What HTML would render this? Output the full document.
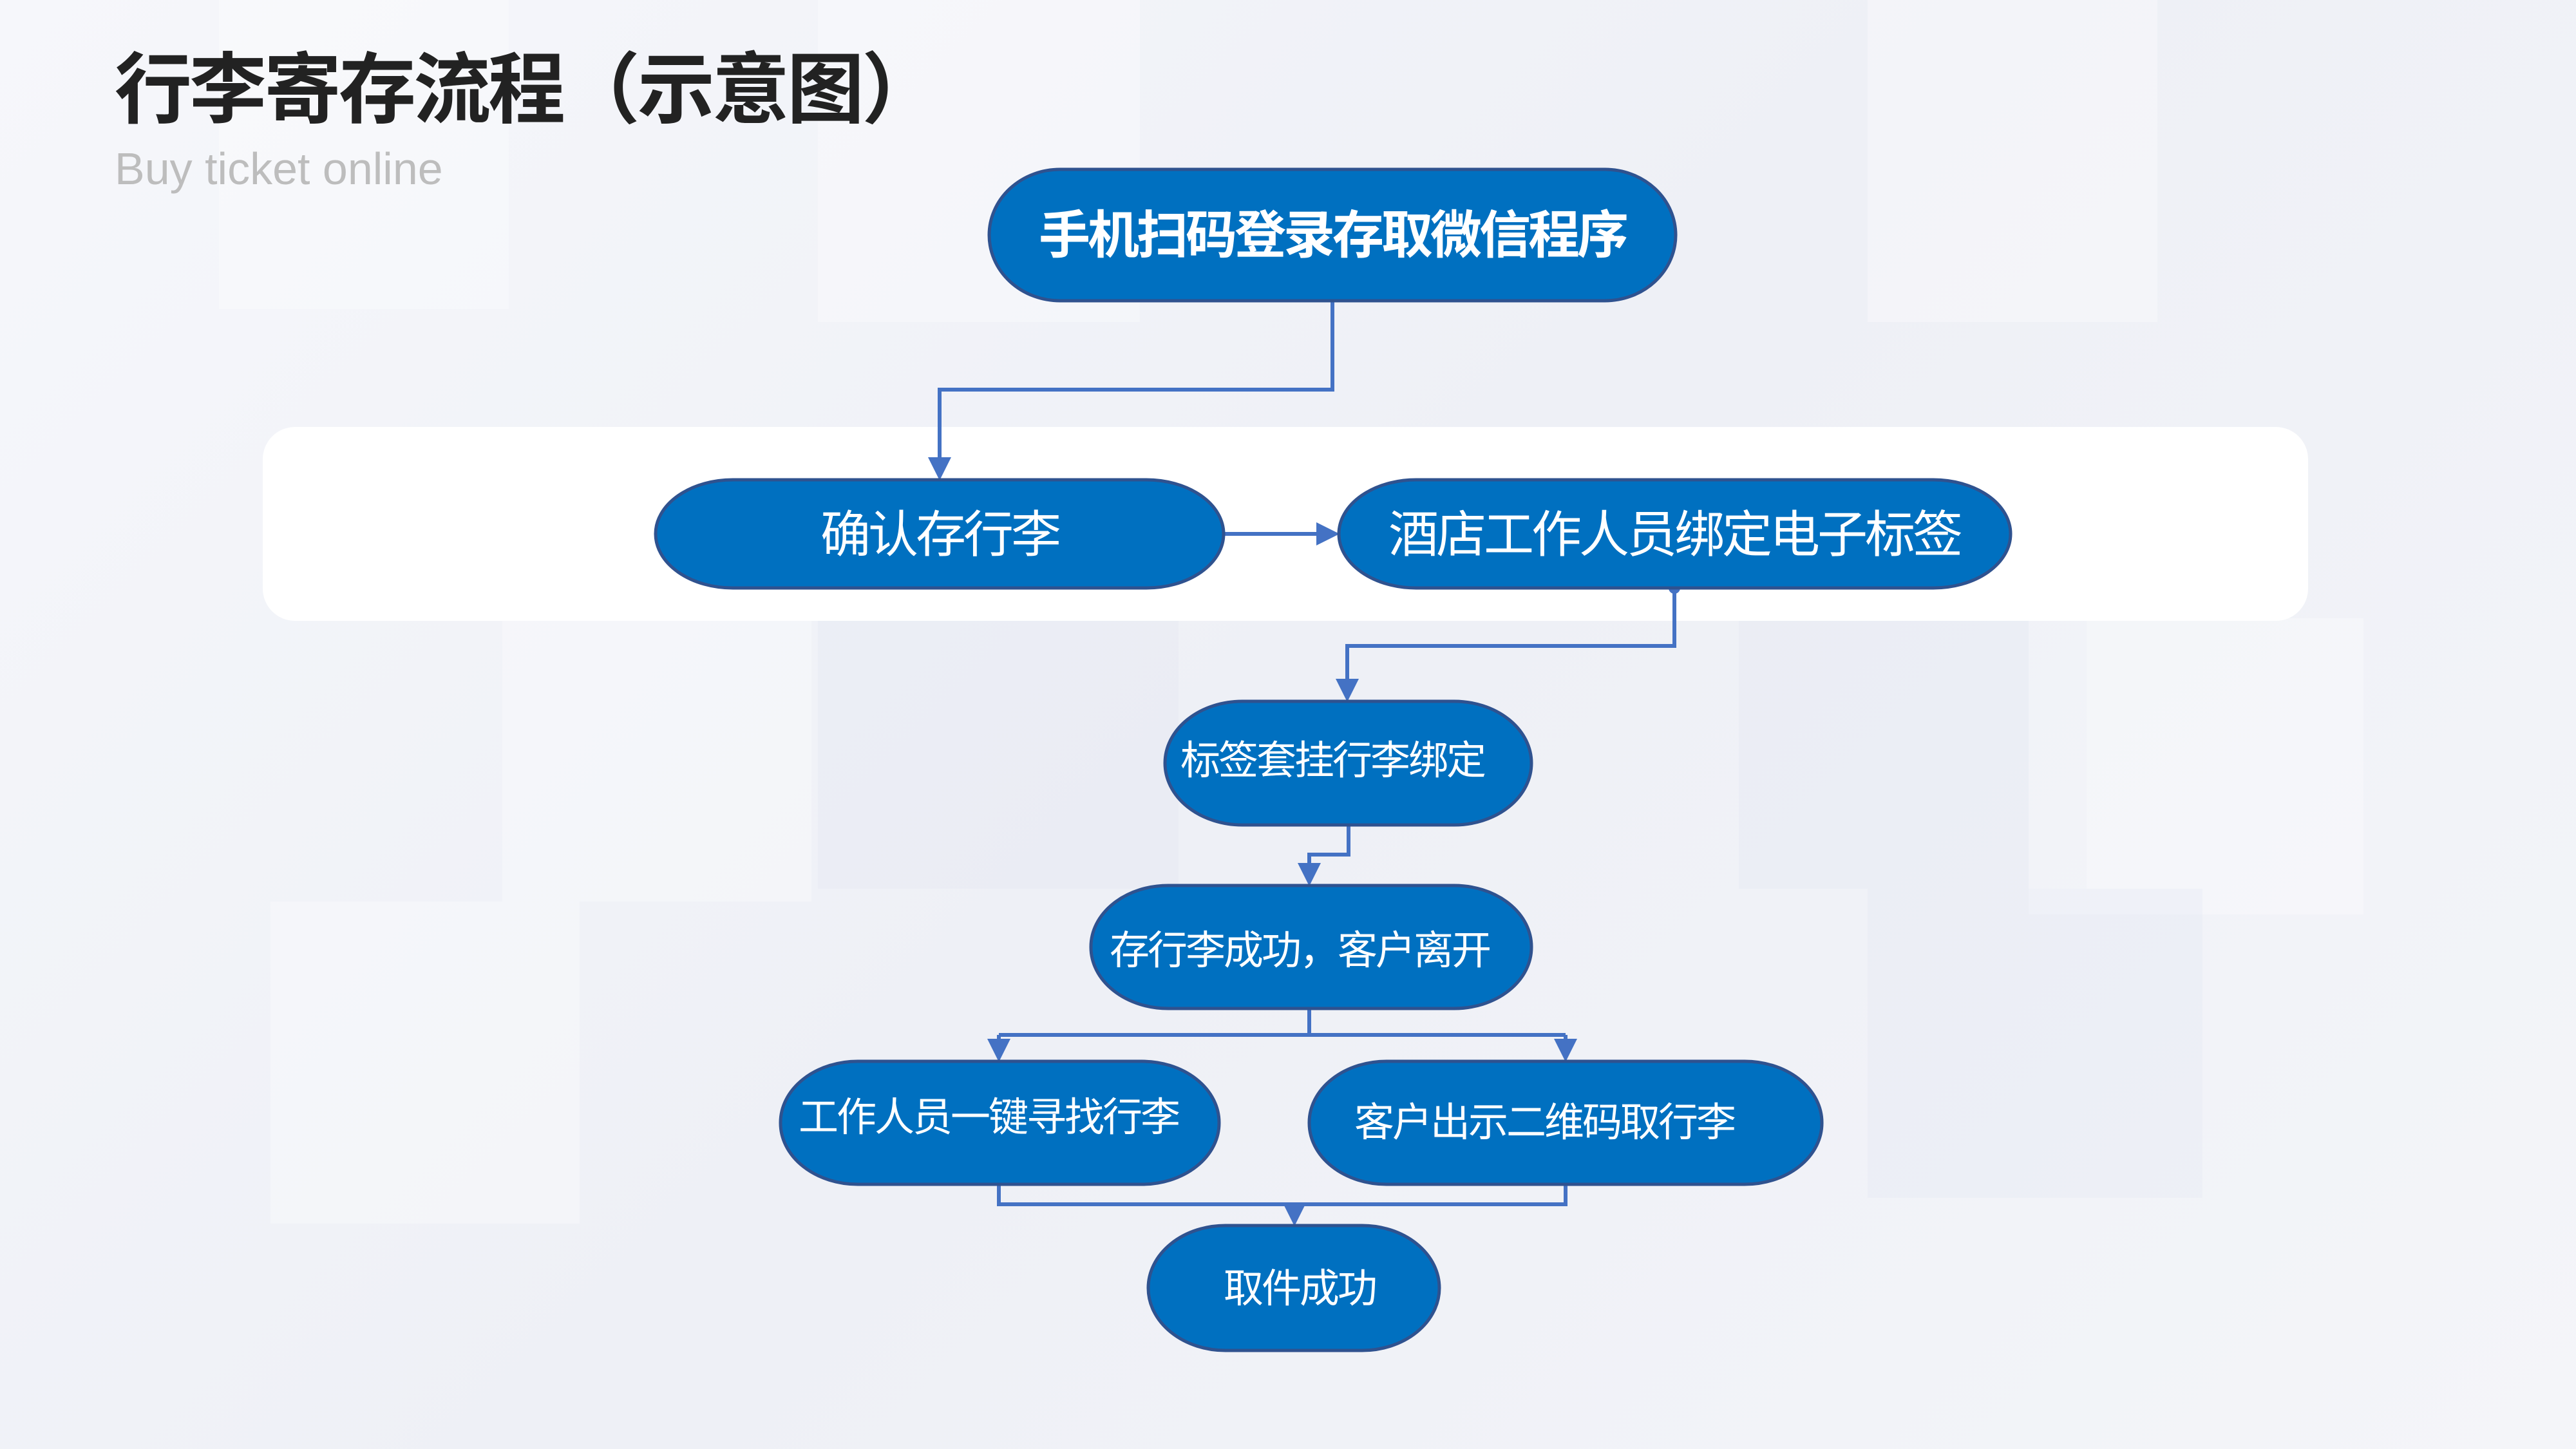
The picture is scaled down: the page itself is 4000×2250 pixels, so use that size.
<!DOCTYPE html>
<html><head><meta charset="utf-8"><style>
html,body{margin:0;padding:0}
body{width:4000px;height:2250px;overflow:hidden;position:relative;background:linear-gradient(135deg,#f6f7fb 0%,#eef0f6 50%,#f4f5f9 100%);font-family:"Liberation Sans","Noto Sans CJK SC",sans-serif}
.b{position:absolute;background:rgba(255,255,255,0.3)}
.s{position:absolute;background:rgba(215,220,240,0.18)}
</style></head><body>
<div class="b" style="left:340px;top:0;width:450px;height:480px"></div>
<div class="b" style="left:1270px;top:0;width:500px;height:500px"></div>
<div class="b" style="left:2900px;top:0;width:450px;height:500px"></div>
<div class="s" style="left:1270px;top:960px;width:560px;height:420px"></div>
<div class="b" style="left:780px;top:960px;width:480px;height:440px"></div>
<div class="s" style="left:2700px;top:960px;width:540px;height:420px"></div>
<div class="b" style="left:3150px;top:960px;width:520px;height:460px"></div>
<div class="b" style="left:420px;top:1400px;width:480px;height:500px"></div>
<div class="s" style="left:2900px;top:1380px;width:520px;height:480px"></div>

<div style="position:absolute;left:178px;top:42px;font-size:120px;font-weight:bold;color:#222;letter-spacing:-4px;white-space:nowrap">行李寄存流程（示意图）</div>
<div style="position:absolute;left:178px;top:222px;font-size:70px;color:#bdbdbd;white-space:nowrap">Buy ticket online</div>

<svg width="4000" height="2250" style="position:absolute;left:0;top:0" xmlns="http://www.w3.org/2000/svg">
<defs><marker id="a" markerWidth="6" markerHeight="6" refX="5" refY="3" orient="auto" markerUnits="strokeWidth"><path d="M0,0 L6,3 L0,6 z" fill="#4472c4"/></marker></defs>
<rect x="408" y="663" width="3176" height="301" rx="50" fill="#fff"/>
<g fill="none" stroke="#4472c4" stroke-width="6">
<path d="M2069 467 V605 H1459 V740" marker-end="url(#a)"/>
<path d="M1900 829 H2074" marker-end="url(#a)"/>
<path d="M2600 913 V1003 H2092 V1084" marker-end="url(#a)"/>
<path d="M2094 1281 V1327 H2033 V1370" marker-end="url(#a)"/>
<path d="M2033 1566 V1607"/>
<path d="M1551 1607 H2431"/>
<path d="M1551 1607 V1643" marker-end="url(#a)"/>
<path d="M2431 1607 V1643" marker-end="url(#a)"/>
<path d="M1551 1839 V1870 H2431 V1839"/>
<path d="M2010 1870 V1898" marker-end="url(#a)"/>
</g>
<circle cx="2600" cy="913" r="9" fill="#4472c4"/>
<g fill="#0070c0" stroke="#2f528f" stroke-width="5">
<rect x="1536" y="263" width="1066" height="204" rx="110" ry="102"/>
<rect x="1018" y="745" width="882" height="168" rx="120" ry="84"/>
<rect x="2079" y="745" width="1043" height="168" rx="120" ry="84"/>
<rect x="1809" y="1089" width="569" height="192" rx="120" ry="96"/>
<rect x="1694" y="1375" width="684" height="191" rx="120" ry="95"/>
<rect x="1212" y="1648" width="681" height="191" rx="120" ry="95"/>
<rect x="2033" y="1648" width="796" height="191" rx="120" ry="95"/>
<rect x="1783" y="1903" width="452" height="194" rx="120" ry="97"/>
</g>
<g fill="#fff" text-anchor="middle" font-family="Liberation Sans, Noto Sans CJK SC, sans-serif">
<text x="2069" y="393" font-size="80" font-weight="bold" letter-spacing="-4">手机扫码登录存取微信程序</text>
<text x="1459" y="857" font-size="78" letter-spacing="-4">确认存行李</text>
<text x="2600" y="857" font-size="78" letter-spacing="-4">酒店工作人员绑定电子标签</text>
<text x="2069" y="1202" font-size="62" letter-spacing="-3">标签套挂行李绑定</text>
<text x="2018" y="1497" font-size="62" letter-spacing="-3">存行李成功，客户离开</text>
<text x="1535" y="1756" font-size="62" letter-spacing="-3">工作人员一键寻找行李</text>
<text x="2398" y="1764" font-size="62" letter-spacing="-3">客户出示二维码取行李</text>
<text x="2018" y="2022" font-size="62" letter-spacing="-3">取件成功</text>
</g>
</svg>
</body></html>
